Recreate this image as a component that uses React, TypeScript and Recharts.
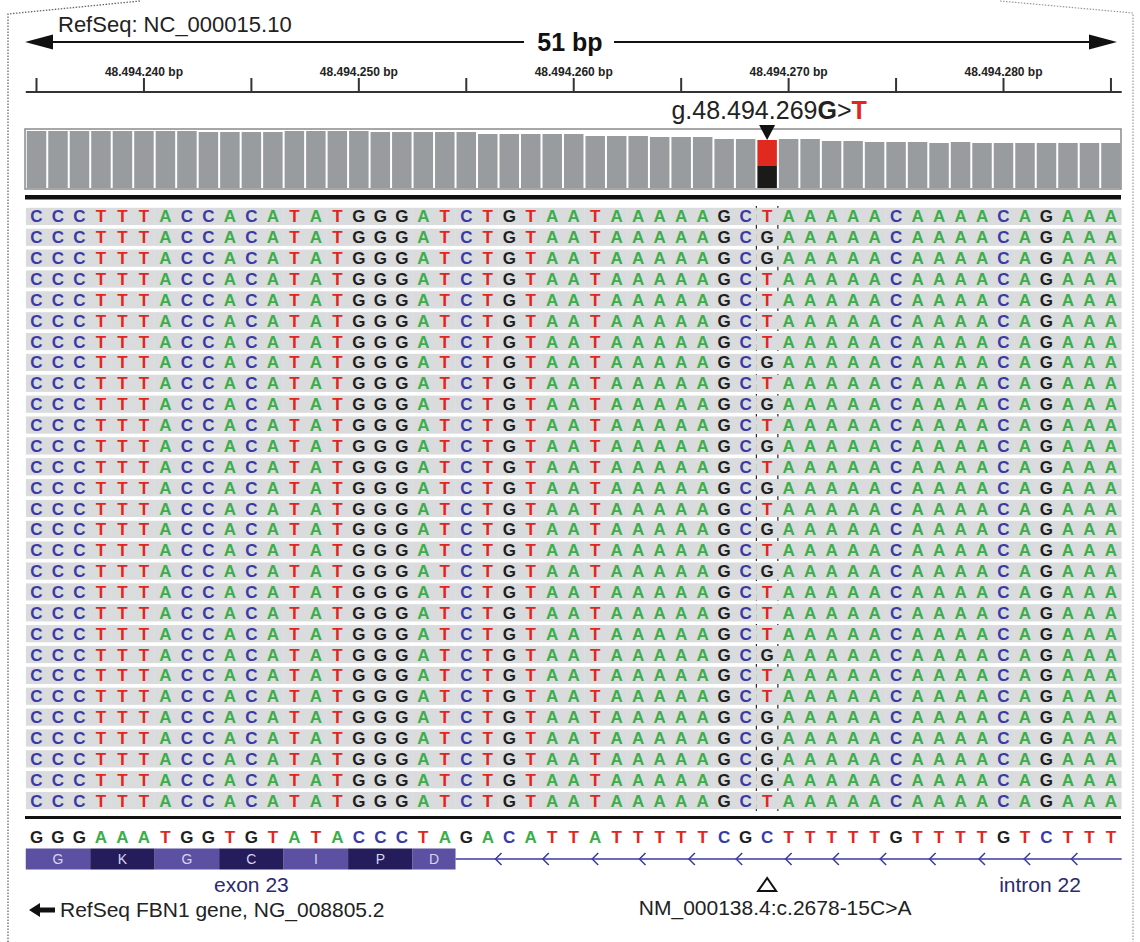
import React from 'react';
import {
  BarChart, Bar, Cell, XAxis, YAxis, LineChart, ScatterChart, Scatter,
  ReferenceLine, ReferenceDot, ReferenceArea,
} from 'recharts';

const FONT = '"Liberation Sans", Arial, Helvetica, sans-serif';

// region shown: 48.494.235 .. 48.494.285 (51 bp)
const FIRST_POS = 48494235;
const MUT_POS = 48494269;
const REF_ALLELE = 'G';
const ALT_ALLELE = 'T';

// read-strand sequence (reference allele at the variant)
const READ_SEQ = 'CCCTTTACCACATATGGGATCTGTAATAAAAAGCGAAAAACAAAACAGAAA';
// allele seen in each read row at the variant position, top to bottom
const READ_ALLELES = ['T', 'G', 'G', 'T', 'T', 'T', 'T', 'G', 'T', 'G', 'T', 'G', 'T', 'G', 'T',
  'G', 'T', 'G', 'T', 'T', 'T', 'G', 'T', 'T', 'G', 'G', 'G', 'G', 'T'];
// reference sequence track at the bottom
const REF_SEQ = 'GGGAAATGGTGTATACCCTAGACATTATTTTTCGCTTTTTGTTTTGTCTTT';

// coverage depth per base
const DEPTH = [57, 57, 57, 57, 57, 57, 57, 57, 56, 56, 56, 56, 57, 57, 57, 57, 56, 56, 56, 56,
  56, 54, 54, 54, 54, 54, 52, 52, 52, 51, 51, 51, 49, 49, 48, 49, 49, 47, 47, 46,
  46, 46, 45, 46, 45, 45, 45, 45, 45, 45, 45];
const MUT_ALT_DEPTH = 26;
const DEPTH_MAX = 59;

const RULER_TICKS = [48494235, 48494240, 48494245, 48494250, 48494255, 48494260, 48494265,
  48494270, 48494275, 48494280, 48494285];

// exon 23 codons (first base index, length, amino acid)
const CODON_START = [0, 3, 6, 9, 12, 15, 18];
const CODON_LEN = [3, 3, 3, 3, 3, 3, 2];
const AMINO_ACIDS = ['G', 'K', 'G', 'C', 'I', 'P', 'D'];
const EXON_END = 48494254.5;
// intron direction chevrons
const CHEVRON_POS = [48494256.5, 48494258.7, 48494261.0, 48494263.2, 48494265.5, 48494267.7,
  48494270.0, 48494272.2, 48494274.4, 48494276.7, 48494279.0, 48494281.1, 48494283.3];
const FEATURE_LABELS = [
  { pos: 48494245, text: 'exon 23' },
  { pos: 48494281.7, text: 'intron 22' },
];

const BASE_COLORS: Record<string, string> = {
  A: '#3aae49',
  C: '#3a3aa6',
  G: '#1e1e1e',
  T: '#e2261d',
};

const W = 1140;
const MARGIN = { left: 25.75, right: 18.3 };
const X_DOMAIN = [FIRST_POS - 0.5, FIRST_POS + 50.5];

const fmtPos = (v: number) => String(v).replace(/\B(?=(\d{3})+(?!\d))/g, '.');

// note: keys must not be named "ref" (recharts spreads entries onto shapes)
const coverageData = DEPTH.map((d, i) => {
  const pos = FIRST_POS + i;
  return pos === MUT_POS
    ? { pos, refDepth: d - MUT_ALT_DEPTH, altDepth: MUT_ALT_DEPTH }
    : { pos, refDepth: d, altDepth: 0 };
});

const readCells: { pos: number; row: number; base: string }[] = [];
READ_ALLELES.forEach((allele, r) => {
  READ_SEQ.split('').forEach((b, i) => {
    const pos = FIRST_POS + i;
    readCells.push({ pos, row: r + 1, base: pos === MUT_POS ? allele : b });
  });
});

// bottom track lanes (pixels below the track top)
const SEQ_LANE = 17;
const GENE_LANE = 39;
const refCells = REF_SEQ.split('').map((b, i) => ({ pos: FIRST_POS + i, lane: SEQ_LANE, base: b }));
const chevrons = CHEVRON_POS.map((pos) => ({ pos, lane: GENE_LANE }));

const renderReadCell = (props: any) => {
  const { cx, cy, payload } = props;
  return (
    <g>
      <rect x={cx - 10.9} y={cy - 8.6} width={21.8} height={17.2} fill="#dadbdd" />
      <text x={cx} y={cy + 6} textAnchor="middle" fontFamily={FONT} fontWeight="bold" fontSize={17}
        fill={BASE_COLORS[payload.base]}>{payload.base}</text>
    </g>
  );
};

const renderRefCell = (props: any) => {
  const { cx, cy, payload } = props;
  return (
    <text x={cx} y={cy + 6} textAnchor="middle" fontFamily={FONT} fontWeight="bold" fontSize={17}
      fill={BASE_COLORS[payload.base]}>{payload.base}</text>
  );
};

const renderChevron = (props: any) => {
  const { cx, cy } = props;
  return <polyline points={`${cx + 3},${cy - 6} ${cx - 3},${cy} ${cx + 3},${cy + 6}`} fill="none" stroke="#3b3aa5" strokeWidth={1.5} />;
};

const renderRulerTick = (props: any) => {
  const { x, y, payload } = props;
  if (payload.value % 10 !== 0) return <g />;
  return (
    <text x={x} y={y} textAnchor="middle" fontFamily={FONT} fontWeight="bold" fontSize={12} fill="#222">
      {fmtPos(payload.value)} bp
    </text>
  );
};

const renderMutationMarker = (props: any) => {
  const { cx, cy } = props;
  return (
    <g>
      <polygon points={`${cx},${cy} ${cx - 8},${cy - 15} ${cx + 8},${cy - 15}`} fill="#111" />
      <text x={cx + 2} y={cy - 21} textAnchor="middle" fontFamily={FONT} fontSize={25} fill="#222">
        <tspan>g.{fmtPos(MUT_POS)}</tspan>
        <tspan fontWeight="bold">{REF_ALLELE}</tspan>
        <tspan>&gt;</tspan>
        <tspan fontWeight="bold" fill="#e2261d">{ALT_ALLELE}</tspan>
      </text>
    </g>
  );
};

const renderVariantNote = (props: any) => {
  const { cx, cy } = props;
  return (
    <g>
      <polygon points={`${cx},${cy - 6} ${cx - 9},${cy + 7} ${cx + 9},${cy + 7}`} fill="none" stroke="#111" strokeWidth={2} />
      <text x={cx + 8} y={cy + 31} textAnchor="middle" fontFamily={FONT} fontSize={21} fill="#222">
        NM_000138.4:c.2678-15C&gt;A
      </text>
    </g>
  );
};

const featureLabel = (text: string) => (props: any) => (
  <text x={props.cx} y={props.cy} textAnchor="middle" fontFamily={FONT} fontSize={21} fill="#2a2a70">{text}</text>
);

export default function App() {
  return (
    <div style={{ position: 'absolute', left: 0, top: 0, width: W, height: 942, background: '#fff', overflow: 'hidden' }}>
      <svg width={W} height={942} style={{ position: 'absolute', left: 0, top: 0 }}>
        <path d="M 8 942 L 8 14 L 140 1" fill="none" stroke="#666" strokeWidth={1.3} strokeDasharray="1.5 1.5" />
        <path d="M 1000 1 L 1133 13 L 1133 942" fill="none" stroke="#999" strokeWidth={1.2} strokeDasharray="1.5 1.5" />
        <text x={58} y={32} fontFamily={FONT} fontSize={22} fill="#222">RefSeq: NC_000015.10</text>
        <line x1={50} y1={42} x2={524} y2={42} stroke="#111" strokeWidth={2} />
        <line x1={614} y1={42} x2={1092} y2={42} stroke="#111" strokeWidth={2} />
        <polygon points="25,42 53,34.5 53,49.5" fill="#111" />
        <polygon points="1117,42 1089,34.5 1089,49.5" fill="#111" />
        <text x={570} y={51} textAnchor="middle" fontFamily={FONT} fontWeight="bold" fontSize={25} fill="#111">51 bp</text>
        <rect x={25} y={129} width={1096} height={60} fill="#fff" stroke="#8a8a8a" strokeWidth={1.5} />
        <rect x={25} y={195} width={1096} height={4.5} fill="#111" />
        <rect x={25} y={816} width={1096} height={3} fill="#111" />
        <polygon points="29,910 40,903 40,907.5 55,907.5 55,912.5 40,912.5 40,917" fill="#111" />
        <text x={60} y={917} fontFamily={FONT} fontSize={21} fill="#222">RefSeq FBN1 gene, NG_008805.2</text>
      </svg>

      <div style={{ position: 'absolute', left: 0, top: 0 }}>
        <LineChart width={W} height={93} data={RULER_TICKS.map((pos) => ({ pos }))}
          margin={{ top: 62, right: MARGIN.right, bottom: 1, left: MARGIN.left }}>
          <XAxis dataKey="pos" type="number" orientation="top" domain={X_DOMAIN} ticks={RULER_TICKS}
            allowDataOverflow interval={0} tickSize={14} tickMargin={2} height={30}
            axisLine={{ stroke: '#333', strokeWidth: 2 }} tickLine={{ stroke: '#333', strokeWidth: 2 }}
            tick={renderRulerTick} />
          <YAxis hide domain={[0, 1]} />
        </LineChart>
      </div>

      <div style={{ position: 'absolute', left: 0, top: 95 }}>
        <BarChart width={W} height={93} data={coverageData} barCategoryGap={0} barGap={0}
          margin={{ top: 34, right: MARGIN.right, bottom: 0, left: MARGIN.left }}>
          <XAxis dataKey="pos" hide />
          <YAxis hide domain={[0, DEPTH_MAX]} />
          <Bar dataKey="refDepth" stackId="c" barSize={19.5} isAnimationActive={false}>
            {coverageData.map((d) => (
              <Cell key={d.pos} fill={d.pos === MUT_POS ? '#1c1919' : '#999c9f'} />
            ))}
          </Bar>
          <Bar dataKey="altDepth" stackId="c" barSize={19.5} fill="#e0291f" isAnimationActive={false} />
          <ReferenceDot x={MUT_POS} y={DEPTH[MUT_POS - FIRST_POS]} ifOverflow="visible" shape={renderMutationMarker} />
        </BarChart>
      </div>

      <div style={{ position: 'absolute', left: 0, top: 206 }}>
        <ScatterChart width={W} height={605}
          margin={{ top: 0, right: MARGIN.right, bottom: 0, left: MARGIN.left }}>
          <XAxis dataKey="pos" type="number" domain={X_DOMAIN} hide allowDataOverflow />
          <YAxis dataKey="row" type="number" domain={[0.5, READ_ALLELES.length + 0.5]} reversed hide allowDataOverflow />
          <Scatter data={readCells} shape={renderReadCell} isAnimationActive={false} />
          <ReferenceLine x={MUT_POS - 0.5} stroke="#222" strokeWidth={1.2} strokeDasharray="7 3" />
          <ReferenceLine x={MUT_POS + 0.5} stroke="#222" strokeWidth={1.2} strokeDasharray="7 3" />
        </ScatterChart>
      </div>

      <div style={{ position: 'absolute', left: 0, top: 820 }}>
        <ScatterChart width={W} height={122}
          margin={{ top: 0, right: MARGIN.right, bottom: 0, left: MARGIN.left }}>
          <XAxis dataKey="pos" type="number" domain={X_DOMAIN} hide allowDataOverflow />
          <YAxis dataKey="lane" type="number" domain={[0, 122]} reversed hide allowDataOverflow />
          {AMINO_ACIDS.map((aa, k) => (
            <ReferenceArea key={k}
              x1={FIRST_POS + CODON_START[k] - 0.5} x2={FIRST_POS + CODON_START[k] + CODON_LEN[k] - 0.5}
              y1={GENE_LANE - 10.5} y2={GENE_LANE + 10.5}
              fill={k % 2 === 0 ? '#5b50a1' : '#251c5c'} fillOpacity={1} stroke="none"
              label={{ value: aa, position: 'center', fill: '#d8d4f0', fontSize: 14, fontFamily: FONT }} />
          ))}
          <ReferenceLine segment={[{ x: EXON_END, y: GENE_LANE }, { x: FIRST_POS + 50.5, y: GENE_LANE }]}
            stroke="#3b3aa5" strokeWidth={1.6} />
          <Scatter data={refCells} shape={renderRefCell} isAnimationActive={false} />
          <Scatter data={chevrons} shape={renderChevron} isAnimationActive={false} />
          {FEATURE_LABELS.map((f) => (
            <ReferenceDot key={f.text} x={f.pos} y={72} ifOverflow="visible" shape={featureLabel(f.text)} />
          ))}
          <ReferenceDot x={MUT_POS} y={64} ifOverflow="visible" shape={renderVariantNote} />
        </ScatterChart>
      </div>
    </div>
  );
}
